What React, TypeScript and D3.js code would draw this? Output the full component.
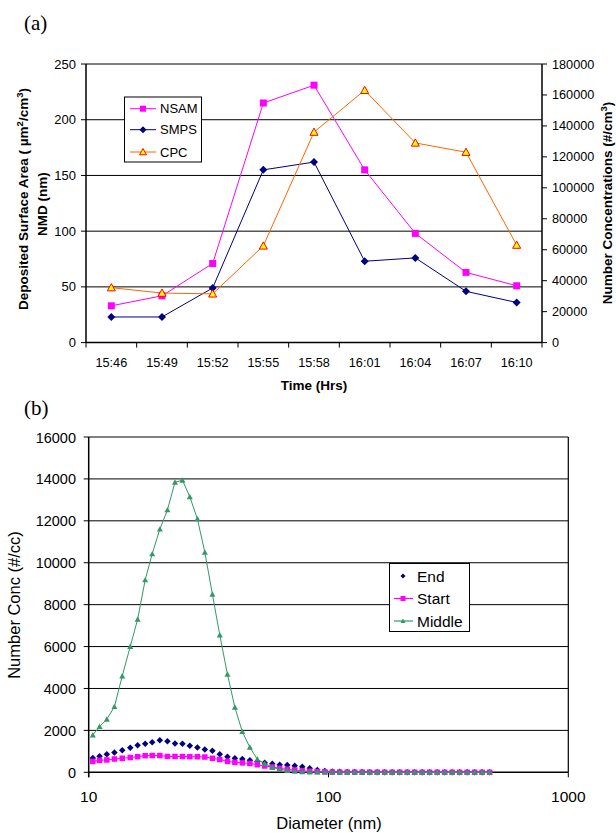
import React from "react";
import * as d3 from "d3";

// ---------- Chart (a) data ----------
const times = ["15:46", "15:49", "15:52", "15:55", "15:58", "16:01", "16:04", "16:07", "16:10"];
const nsam = [33, 42, 71, 215, 231, 155, 98, 63, 51];
const smps = [23, 23, 49, 155, 162, 73, 76, 46, 36];
const cpc = [35500, 32000, 31500, 62500, 136000, 163000, 129000, 123000, 63000];
const leftTicksA = [0, 50, 100, 150, 200, 250];
const rightTicksA = [0, 20000, 40000, 60000, 80000, 100000, 120000, 140000, 160000, 180000];

// ---------- Chart (b) data ----------
const diameters = [10.4, 11.1, 11.9, 12.8, 13.8, 14.9, 16.0, 17.2, 18.4, 19.8, 21.3, 22.9, 24.6, 26.4, 28.4, 30.5,
  32.8, 35.2, 37.9, 40.7, 43.7, 47.0, 50.5, 54.2, 58.3, 62.6, 67.3, 72.3, 77.7, 83.5, 89.8, 96.5,
  103.7, 111.4, 119.7, 128.6, 138.2, 148.6, 159.6, 171.5, 184.3, 198.1, 212.9, 228.7, 245.8, 264.1,
  283.9, 305.1, 327.8, 352.3, 378.6, 406.8, 437.1, 469.8];
const endConc = [680, 760, 860, 945, 1055, 1174, 1285, 1365, 1430, 1527, 1487, 1375, 1357, 1270, 1183, 1090,
  1023, 866, 745, 674, 630, 570, 520, 460, 410, 360, 345, 315, 270, 190, 110, 60,
  40, 30, 20, 15, 10, 8, 6, 5, 4, 3, 2, 2, 1, 1, 1, 1, 0, 0, 0, 0, 0, 0];
const startConc = [520, 572, 590, 635, 670, 705, 745, 793, 800, 800, 755, 755, 755, 745, 745, 730,
  668, 610, 525, 477, 450, 420, 363, 300, 253, 190, 143, 110, 70, 50, 35, 20,
  10, 8, 6, 5, 4, 3, 2, 2, 1, 1, 1, 1, 0, 0, 0, 0, 0, 0, 0, 0, 0, 0];
const middleConc = [1780, 2180, 2530, 3130, 4595, 6000, 7300, 9180, 10420, 11600, 12520, 13840, 13935, 13150, 12090, 10500,
  8495, 6550, 4675, 3100, 1940, 1190, 620, 420, 240, 140, 80, 45, 25, 15, 10, 5,
  4, 3, 2, 2, 1, 1, 1, 1, 0, 0, 0, 0, 0, 0, 0, 0, 0, 0, 0, 0, 0, 0];
const yTicksB = [0, 2000, 4000, 6000, 8000, 10000, 12000, 14000, 16000];
const xTicksB = [10, 100, 1000];

const FONT = "'Liberation Sans', Arial, Helvetica, sans-serif";

function Square({ x, y, s, fill }: { x: number; y: number; s: number; fill: string }) {
  return <rect x={x - s / 2} y={y - s / 2} width={s} height={s} fill={fill} />;
}
function Diamond({ x, y, s, fill }: { x: number; y: number; s: number; fill: string }) {
  const r = s / 2;
  return <path d={`M${x},${y - r}L${x + r},${y}L${x},${y + r}L${x - r},${y}Z`} fill={fill} />;
}
function Tri({ x, y, s, fill, stroke }: { x: number; y: number; s: number; fill: string; stroke?: string }) {
  const r = s / 2;
  return (
    <path
      d={`M${x},${y - r}L${x + r},${y + r * 0.8}L${x - r},${y + r * 0.8}Z`}
      fill={fill}
      stroke={stroke || "none"}
      strokeWidth={stroke ? 1 : 0}
    />
  );
}

function ChartA() {
  const L = 86, R = 542, T = 64, B = 342.6;
  const x = d3.scaleBand<string>().domain(times).range([L, R]).padding(0);
  const cx = (t: string) => (x(t) as number) + x.bandwidth() / 2;
  const yL = d3.scaleLinear().domain([0, 250]).range([B, T]);
  const yR = d3.scaleLinear().domain([0, 180000]).range([B, T]);
  const lineL = d3.line<number>().x((_, i) => cx(times[i])).y((d) => yL(d));
  const lineR = d3.line<number>().x((_, i) => cx(times[i])).y((d) => yR(d));
  const boundaries = [...times.map((t) => x(t) as number), R];

  return (
    <g fontFamily={FONT}>
      <text x={24} y={30} fontFamily="'Liberation Serif', 'Times New Roman', serif" fontSize={21}>(a)</text>
      {leftTicksA.filter((v) => v > 0).map((v) => (
        <line key={v} x1={L} x2={R} y1={yL(v)} y2={yL(v)} stroke="#000" strokeWidth={1} />
      ))}
      <line x1={L} x2={L} y1={T} y2={B} stroke="#000" strokeWidth={1.5} />
      <line x1={R} x2={R} y1={T} y2={B} stroke="#000" strokeWidth={1.5} />
      <line x1={L} x2={R} y1={B} y2={B} stroke="#000" strokeWidth={1.5} />
      {leftTicksA.map((v) => (
        <g key={v}>
          <line x1={L - 5} x2={L} y1={yL(v)} y2={yL(v)} stroke="#000" />
          <text x={76} y={yL(v) + 4.5} textAnchor="end" fontSize={13}>{v}</text>
        </g>
      ))}
      {rightTicksA.map((v) => (
        <g key={v}>
          <line x1={R} x2={R + 5} y1={yR(v)} y2={yR(v)} stroke="#000" />
          <text x={552} y={yR(v) + 4.5} textAnchor="start" fontSize={12.7}>{v}</text>
        </g>
      ))}
      {boundaries.map((b, i) => (
        <line key={i} x1={b} x2={b} y1={B} y2={B + 5} stroke="#000" />
      ))}
      {times.map((t) => (
        <text key={t} x={cx(t)} y={366.5} textAnchor="middle" fontSize={12.7}>{t}</text>
      ))}
      <text x={314} y={390} textAnchor="middle" fontSize={13.5} fontWeight="bold">Time (Hrs)</text>
      <text transform={`translate(28,199) rotate(-90)`} textAnchor="middle" fontSize={13.5} fontWeight="bold">
        Deposited Surface Area ( µm<tspan dy={-5} fontSize={9.5}>2</tspan><tspan dy={5}>/cm</tspan><tspan dy={-5} fontSize={9.5}>3</tspan><tspan dy={5}>)</tspan>
      </text>
      <text transform={`translate(47,204) rotate(-90)`} textAnchor="middle" fontSize={13.5} fontWeight="bold">NMD (nm)</text>
      <text transform={`translate(612,203) rotate(-90)`} textAnchor="middle" fontSize={13.5} fontWeight="bold">
        Number Concentrations (#/cm<tspan dy={-5} fontSize={9.5}>3</tspan><tspan dy={5}>)</tspan>
      </text>
      <path d={lineL(nsam) || ""} fill="none" stroke="#FF00FF" strokeWidth={1} />
      <path d={lineL(smps) || ""} fill="none" stroke="#000080" strokeWidth={1} />
      <path d={lineR(cpc) || ""} fill="none" stroke="#FF6600" strokeWidth={1} />
      {nsam.map((v, i) => <Square key={i} x={cx(times[i])} y={yL(v)} s={7} fill="#FF00FF" />)}
      {smps.map((v, i) => <Diamond key={i} x={cx(times[i])} y={yL(v)} s={8} fill="#000080" />)}
      {cpc.map((v, i) => <Tri key={i} x={cx(times[i])} y={yR(v)} s={8} fill="#FFFF00" stroke="#FF0000" />)}
      <rect x={124.5} y={97} width={77} height={65} fill="#fff" stroke="#000" strokeWidth={1} />
      {[
        { name: "NSAM", c: "#FF00FF", y: 108.7 },
        { name: "SMPS", c: "#000080", y: 129.7 },
        { name: "CPC", c: "#FF6600", y: 152 },
      ].map((e, i) => (
        <g key={e.name}>
          <line x1={130} x2={156} y1={e.y} y2={e.y} stroke={e.c} strokeWidth={1} />
          {i === 0 && <Square x={143} y={e.y} s={6} fill="#FF00FF" />}
          {i === 1 && <Diamond x={143} y={e.y} s={7} fill="#000080" />}
          {i === 2 && <Tri x={143} y={e.y} s={7} fill="#FFFF00" stroke="#FF0000" />}
          <text x={160} y={e.y + 4.7} fontSize={13}>{e.name}</text>
        </g>
      ))}
    </g>
  );
}

function ChartB() {
  const L = 88.7, R = 568.3, T = 437, B = 772.3;
  const x = d3.scaleLog().domain([10, 1000]).range([L, R]);
  const y = d3.scaleLinear().domain([0, 16000]).range([B, T]);
  const line = d3.line<number>().x((_, i) => x(diameters[i])).y((d) => y(d));
  return (
    <g fontFamily={FONT}>
      <text x={24} y={415} fontFamily="'Liberation Serif', 'Times New Roman', serif" fontSize={21}>(b)</text>
      {yTicksB.filter((v) => v > 0).map((v) => (
        <line key={v} x1={L} x2={R} y1={y(v)} y2={y(v)} stroke="#000" strokeWidth={1} />
      ))}
      <line x1={L} x2={L} y1={T} y2={B + 5} stroke="#000" strokeWidth={1.5} />
      <line x1={R} x2={R} y1={T} y2={B} stroke="#000" strokeWidth={1.2} />
      <line x1={L} x2={R} y1={B} y2={B} stroke="#000" strokeWidth={1.5} />
      {yTicksB.map((v) => (
        <g key={v}>
          <line x1={L - 5} x2={L} y1={y(v)} y2={y(v)} stroke="#000" />
          <text x={76} y={y(v) + 5.5} textAnchor="end" fontSize={14.5}>{v}</text>
        </g>
      ))}
      {xTicksB.map((v) => (
        <g key={v}>
          <line x1={x(v)} x2={x(v)} y1={B} y2={B + 5} stroke="#000" />
          <text x={x(v)} y={802} textAnchor="middle" fontSize={15.5}>{v}</text>
        </g>
      ))}
      <text x={329} y={829} textAnchor="middle" fontSize={16.5}>Diameter (nm)</text>
      <text transform={`translate(20,605) rotate(-90)`} textAnchor="middle" fontSize={16.5}>Number Conc (#/cc)</text>
      {endConc.map((v, i) => <Diamond key={i} x={x(diameters[i])} y={y(v)} s={6.5} fill="#000080" />)}
      <path d={line(startConc) || ""} fill="none" stroke="#FF00FF" strokeWidth={1} />
      {startConc.map((v, i) => <Square key={i} x={x(diameters[i])} y={y(v)} s={5.5} fill="#FF00FF" />)}
      <path d={line(middleConc) || ""} fill="none" stroke="#339966" strokeWidth={1} />
      {middleConc.map((v, i) => <Tri key={i} x={x(diameters[i])} y={y(v)} s={6} fill="#339966" />)}
      <rect x={389.5} y={563.5} width={80} height={68} fill="#fff" stroke="#000" strokeWidth={1} />
      <Diamond x={403} y={576} s={5} fill="#000080" />
      <text x={417} y={581.5} fontSize={15.5}>End</text>
      <line x1={394} x2={413} y1={598.5} y2={598.5} stroke="#FF00FF" strokeWidth={1.2} />
      <Square x={403} y={598.5} s={5} fill="#FF00FF" />
      <text x={417} y={604} fontSize={15.5}>Start</text>
      <line x1={394} x2={413} y1={621} y2={621} stroke="#339966" strokeWidth={1.2} />
      <Tri x={403} y={621} s={5} fill="#339966" />
      <text x={417} y={626.5} fontSize={15.5}>Middle</text>
    </g>
  );
}

export default function App() {
  return (
    <svg
      width={616}
      height={833}
      style={{ position: "absolute", left: 0, top: 0, background: "#fff" }}
    >
      <rect width={616} height={833} fill="#fff" />
      <ChartA />
      <ChartB />
    </svg>
  );
}
